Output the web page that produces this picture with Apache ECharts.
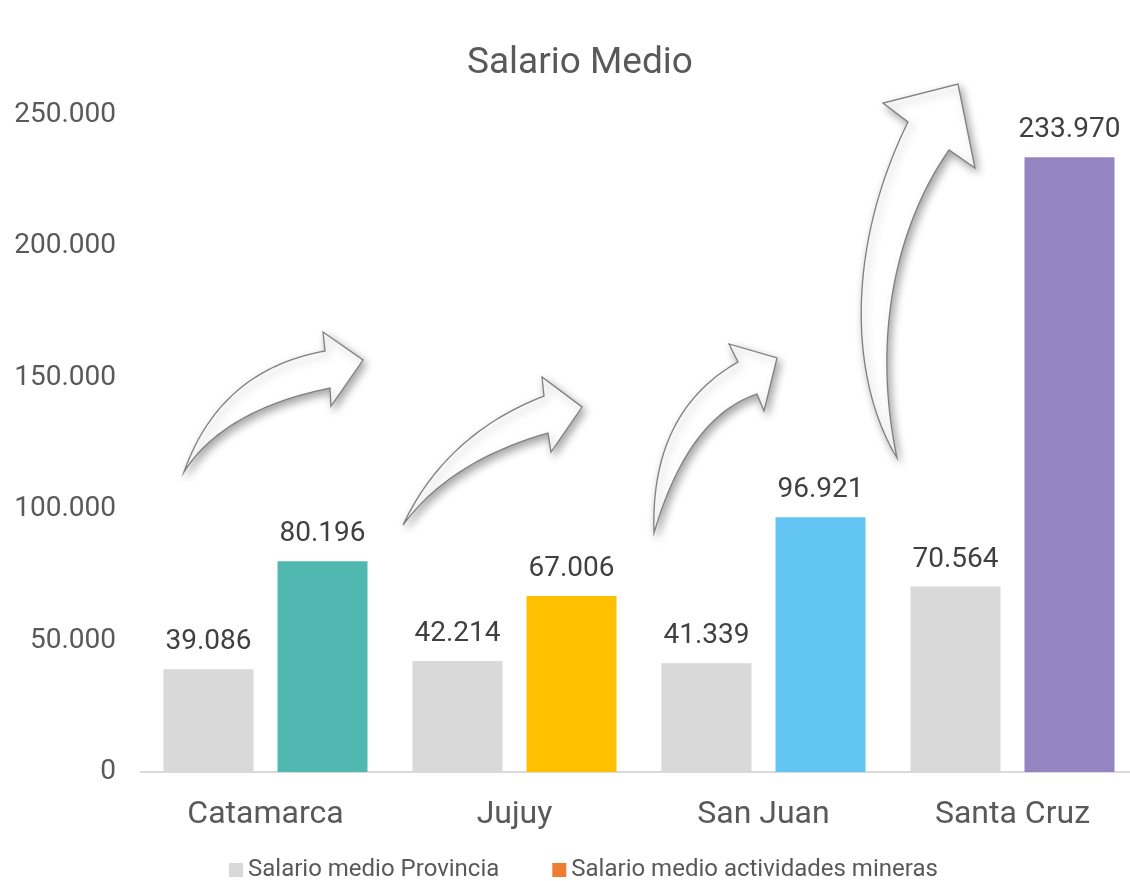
<!DOCTYPE html>
<html>
<head>
<meta charset="utf-8">
<script src="https://cdn.jsdelivr.net/npm/echarts@6/dist/echarts.min.js"></script>
<style>
html,body{margin:0;padding:0;background:#fff;}
#main{width:1130px;height:881px;}
</style>
</head>
<body>
<div id="main"></div>
<script>
// ---- data ----
const categories = ['Catamarca', 'Jujuy', 'San Juan', 'Santa Cruz'];
const provincia = [39086, 42214, 41339, 70564];
const mineras = [80196, 67006, 96921, 233970];
const yTicks = [0, 50000, 100000, 150000, 200000, 250000];
const seriesNames = ['Salario medio Provincia', 'Salario medio actividades mineras'];

// ---- styles ----
const mineraColors = ['#50b8b0', '#ffc000', '#63c5f1', '#9484c0'];
const FONT = 'Roboto';
const TXT = '#595959';

function fmt(v) {
  return String(v).replace(/\B(?=(\d{3})+(?!\d))/g, '.');
}

// decorative curved arrows (annotation shapes)
function quad(p0, c, p1, n) {
  const pts = [];
  for (let i = 1; i <= n; i++) {
    const t = i / n, u = 1 - t;
    pts.push([u*u*p0[0] + 2*u*t*c[0] + t*t*p1[0], u*u*p0[1] + 2*u*t*c[1] + t*t*p1[1]]);
  }
  return pts;
}
function cubic(p0, c1, c2, p1, n) {
  const pts = [];
  for (let i = 1; i <= n; i++) {
    const t = i / n, u = 1 - t;
    pts.push([
      u*u*u*p0[0] + 3*u*u*t*c1[0] + 3*u*t*t*c2[0] + t*t*t*p1[0],
      u*u*u*p0[1] + 3*u*u*t*c1[1] + 3*u*t*t*c2[1] + t*t*t*p1[1]
    ]);
  }
  return pts;
}
function arrowQ(tail, oc, ob, b1, tip, b2, ib, ic) {
  let pts = [tail];
  pts = pts.concat(quad(tail, oc, ob, 30));
  pts.push(b1, tip, b2, ib);
  pts = pts.concat(quad(ib, ic, tail, 30));
  return pts;
}
function arrowC(tail, o1, o2, ob, b1, tip, b2, ib, i1, i2) {
  let pts = [tail];
  pts = pts.concat(cubic(tail, o1, o2, ob, 40));
  pts.push(b1, tip, b2, ib);
  pts = pts.concat(cubic(ib, i1, i2, tail, 40));
  return pts;
}
const arrows = [
  arrowQ([184,472],[220,370],[325,351],[323,332],[363,360],[331,406],[330,388],[223,410]),
  arrowQ([403,525],[446,434],[544,396],[542,377],[582,407],[551,452],[548,433],[450,461]),
  arrowQ([654,533],[650,412],[738,362],[729,344],[777,358],[764,411],[757,394],[688,417]),
  arrowC([897,458],[850,380],[845,250],[908,122],[883,103],[958,84],[975,168],[949,150],[900,220],[870,330])
];
const arrowGraphics = arrows.map(pts => ({
  type: 'polygon',
  z: 10,
  shape: { points: pts },
  style: {
    fill: '#ffffff',
    stroke: '#7f7f7f',
    lineWidth: 1.3,
    shadowBlur: 8,
    shadowOffsetX: 3,
    shadowOffsetY: 4,
    shadowColor: 'rgba(0,0,0,0.35)'
  }
}));

const chart = echarts.init(document.getElementById('main'), null, {renderer: 'canvas'});
chart.setOption({
  animation: false,
  backgroundColor: '#ffffff',
  textStyle: { fontFamily: FONT },
  title: {
    text: 'Salario Medio',
    left: 462,
    top: 40,
    textStyle: { fontFamily: FONT, fontSize: 37, fontWeight: 'normal', color: TXT }
  },
  legend: {
    data: seriesNames,
    left: 224,
    top: 853,
    icon: 'rect',
    itemWidth: 14,
    itemHeight: 14,
    itemGap: 53,
    textStyle: { fontFamily: FONT, fontSize: 24, color: TXT, padding: [0, 0, 0, 0] }
  },
  grid: { left: 141, top: 115, width: 996, height: 657, containLabel: false, outerBoundsMode: 'none' },
  xAxis: {
    type: 'category',
    data: categories,
    axisLine: { lineStyle: { color: '#d9d9d9', width: 2 } },
    axisTick: { show: false },
    axisLabel: { fontFamily: FONT, fontSize: 32, color: TXT, margin: 27 }
  },
  yAxis: {
    type: 'value',
    min: yTicks[0],
    max: yTicks[yTicks.length - 1],
    interval: yTicks[1] - yTicks[0],
    splitLine: { show: false },
    axisLine: { show: false },
    axisTick: { show: false },
    axisLabel: { fontFamily: FONT, fontSize: 28, color: TXT, margin: 25, formatter: v => fmt(v) }
  },
  series: [
    {
      name: seriesNames[0],
      type: 'bar',
      data: provincia,
      barWidth: 90,
      barGap: '26.7%',
      itemStyle: { color: '#d9d9d9' },
      label: { show: true, position: 'top', distance: 13, fontFamily: FONT, fontSize: 28, color: '#404040', formatter: p => fmt(p.value) }
    },
    {
      name: seriesNames[1],
      type: 'bar',
      barWidth: 90,
      data: mineras.map((v, i) => ({ value: v, itemStyle: { color: mineraColors[i] } })),
      itemStyle: { color: '#ed7d31' },
      label: { show: true, position: 'top', distance: 13, fontFamily: FONT, fontSize: 28, color: '#404040', formatter: p => fmt(p.value) }
    }
  ],
  graphic: arrowGraphics
});
</script>
</body>
</html>
